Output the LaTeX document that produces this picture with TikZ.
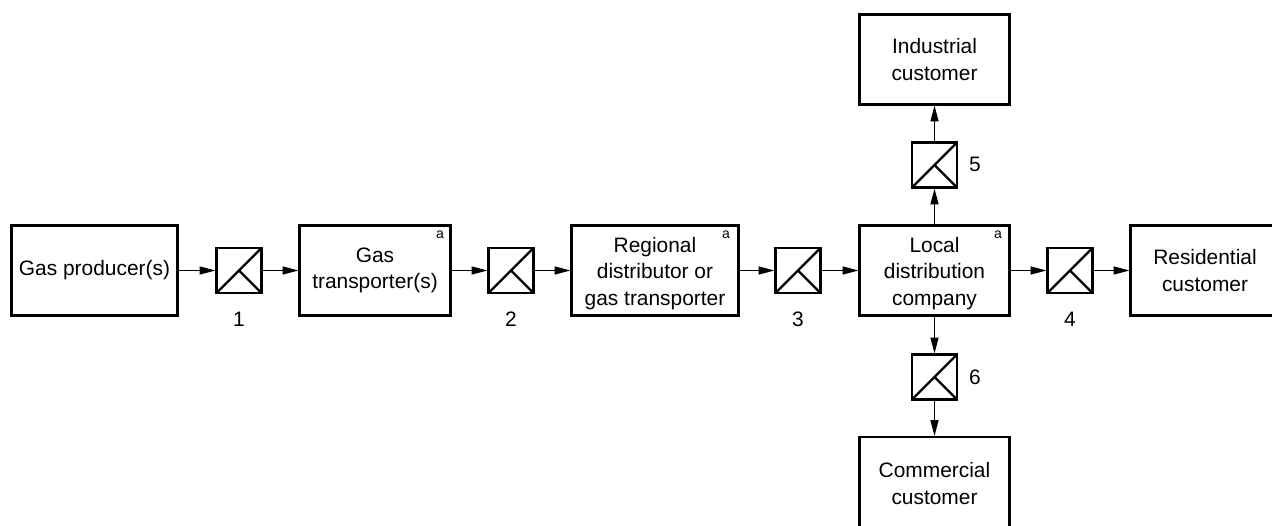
\documentclass[tikz,border=0pt]{standalone}
\usepackage{fontspec}
\setmainfont{Liberation Sans}
\usetikzlibrary{arrows.meta}
\newcommand{\lowrow}{\rule{0pt}{12.1pt}}
\tikzset{
  unitbox/.style={draw,line width=1.3pt,minimum height=1.8cm,align=center,font=\fontsize{11.9}{15.2}\selectfont,inner sep=0pt},
  meterbox/.style={draw,line width=1.3pt,minimum width=0.9cm,minimum height=0.9cm,inner sep=0pt,
    path picture={
      \draw[line width=1.3pt] (path picture bounding box.south west)--(path picture bounding box.north east);
      \draw[line width=1.3pt] (path picture bounding box.center)--(path picture bounding box.south east);
    }},
  flow/.style={-{Triangle[length=9pt,width=4.6pt]},line width=0.7pt},
  tag/.style={font=\fontsize{11.9}{14}\selectfont,inner sep=0pt},
  supmark/.style={font=\fontsize{8}{9}\selectfont,inner sep=0pt}
}
\begin{document}
\begin{tikzpicture}
  \useasboundingbox (0,0) rectangle (25.44,10.5);
  \clip (0,0) rectangle (25.44,10.5);
  % main row
  \node[unitbox,minimum width=3.32cm] (producer) at (1.89,5.09) {Gas producer(s)};
  \node[meterbox] (meterA) at (4.78,5.09) {};
  \node[unitbox,minimum width=3.02cm] (transporter) at (7.5,5.09) {Gas\\transporter(s)};
  \node[meterbox] (meterB) at (10.22,5.09) {};
  \node[unitbox,minimum width=3.34cm] (regional) at (13.1,5.09) {\lowrow Regional\\distributor or\\gas transporter};
  \node[meterbox] (meterC) at (15.96,5.09) {};
  \node[unitbox,minimum width=3.0cm] (local) at (18.69,5.09) {\lowrow Local\\distribution\\company};
  \node[meterbox] (meterD) at (21.4,5.09) {};
  \node[unitbox,minimum width=2.98cm] (residential) at (24.1,5.09) {Residential\\customer};
  % branches
  \node[meterbox] (meterE) at (18.69,7.2) {};
  \node[unitbox,minimum width=3.0cm] (industrial) at (18.69,9.31) {Industrial\\customer};
  \node[meterbox] (meterF) at (18.69,2.96) {};
  \node[unitbox,minimum width=3.0cm,minimum height=1.86cm] (commercial) at (18.69,0.83) {Commercial\\customer};
  % meter numbers
  \node[tag] (numA) at (4.78,4.12) {1};
  \node[tag] (numB) at (10.22,4.12) {2};
  \node[tag] (numC) at (15.96,4.12) {3};
  \node[tag] (numD) at (21.4,4.12) {4};
  \node[tag] (numE) at (19.5,7.22) {5};
  \node[tag] (numF) at (19.5,2.96) {6};
  % superscripts
  \node[supmark] (supA) at (8.8,5.81) {a};
  \node[supmark] (supB) at (14.52,5.81) {a};
  \node[supmark] (supC) at (19.96,5.81) {a};
  % flows
  \draw[flow] (producer)--(meterA);
  \draw[flow] (meterA)--(transporter);
  \draw[flow] (transporter)--(meterB);
  \draw[flow] (meterB)--(regional);
  \draw[flow] (regional)--(meterC);
  \draw[flow] (meterC)--(local);
  \draw[flow] (local)--(meterD);
  \draw[flow] (meterD)--(residential);
  \draw[flow] (local)--(meterE);
  \draw[flow] (meterE)--(industrial);
  \draw[flow] (local)--(meterF);
  \draw[flow] (meterF)--(commercial);
\end{tikzpicture}
\end{document}
